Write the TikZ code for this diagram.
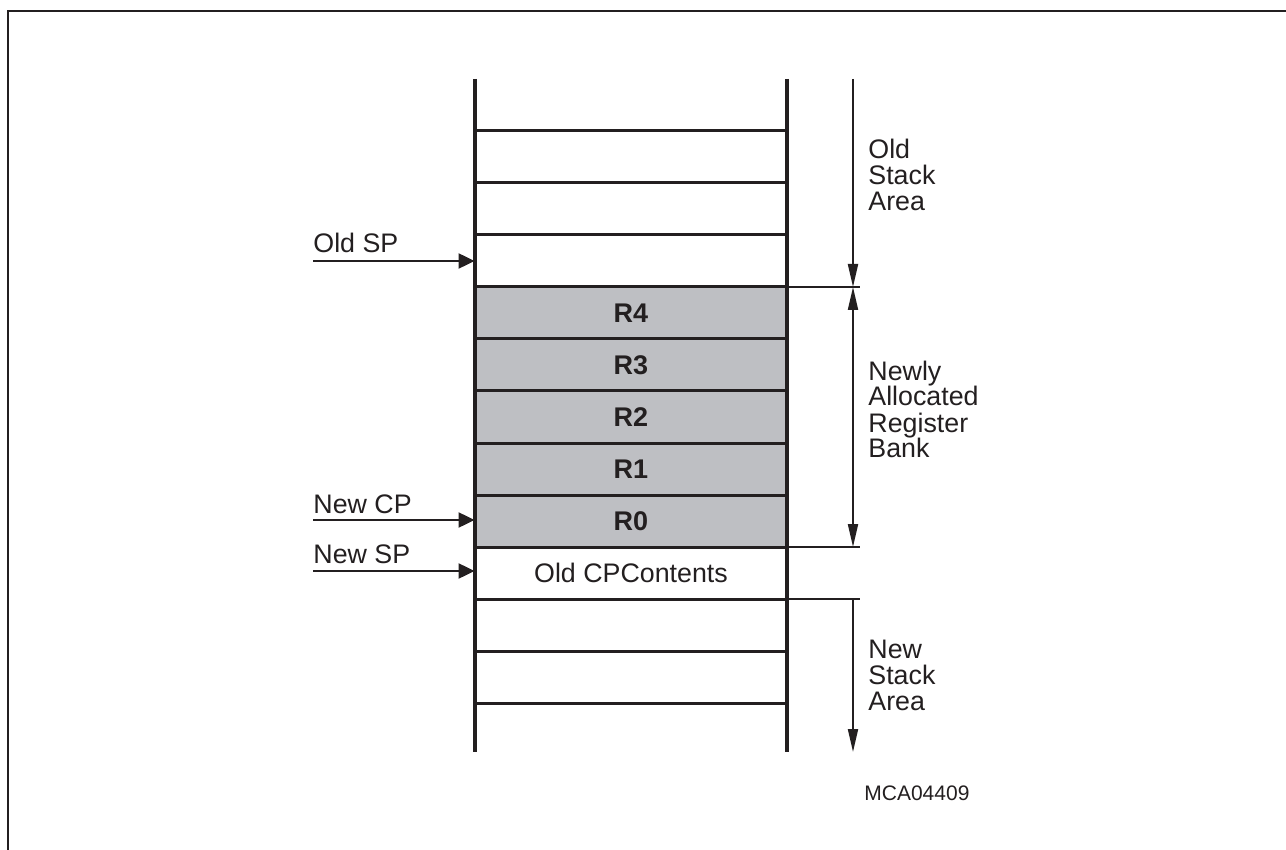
\documentclass[tikz,border=0pt]{standalone}
\usepackage{fontspec}
\setmainfont{Liberation Sans}
\usetikzlibrary{arrows.meta}
\definecolor{ink}{RGB}{35,31,32}
\definecolor{regfill}{RGB}{190,191,195}

\begin{document}
\begin{tikzpicture}[x=0.5pt,y=-0.5pt,ink,
  wall/.style={line width=2pt},
  slot/.style={line width=1.5pt},
  guide/.style={line width=1pt},
  ptr/.style={line width=1pt,-{Triangle[length=8pt,width=7.5pt]}},
  span/.style={line width=1pt,-{Triangle[length=11.5pt,width=5pt]}},
  spantwo/.style={line width=1pt,{Triangle[length=11.5pt,width=5pt]}-{Triangle[length=11.5pt,width=5pt]}},
  cell/.style={minimum width=156pt,minimum height=26pt,inner sep=0pt,
    text height=9.6pt,text depth=0pt,font=\fontsize{13.4}{14}\selectfont},
  reg/.style={cell,fill=regfill,text height=9.7pt,font=\fontsize{13.5}{15}\selectfont\bfseries},
  lbl/.style={anchor=base west,inner sep=0pt,align=left,font=\fontsize{13.4}{13}\selectfont}]
  \useasboundingbox (0,0) rectangle (1286,850);
  % frame
  \draw[line width=0.8pt] (8,850) -- (8,11) -- (1286,11);

  % register bank and saved CP
  \foreach \r [count=\i from 0] in {4,3,2,1,0}
    \node[reg] (R\r) at (631,313+52*\i) {R\r};
  \node[cell] (oldcp) at (631,573) {Old CPContents};

  % stack slots and walls
  \foreach \y in {131,183,235,287,339,391,443,495,547,599,651,703}
    \draw[slot] (475,\y) -- (787,\y);
  \draw[wall] (475,79) -- (475,752);
  \draw[wall] (787,79) -- (787,752);

  % pointers
  \node[lbl] (oldsp) at (313,253) {Old SP};
  \node[lbl] (newcp) at (313,513) {New CP};
  \node[lbl] (newsp) at (313,563) {New SP};
  \draw[ptr] ([yshift=-4pt]oldsp.base west) -- ([yshift=-4pt]oldsp.base west -| R4.west);
  \draw[ptr] ([yshift=-3.5pt]newcp.base west) -- ([yshift=-3.5pt]newcp.base west -| R0.west);
  \draw[ptr] ([yshift=-4pt]newsp.base west) -- ([yshift=-4pt]newsp.base west -| oldcp.west);

  % areas
  \coordinate (oldTop) at (853,79);
  \coordinate (bankTop) at (853,287);
  \coordinate (bankBot) at (853,547);
  \coordinate (newTop) at (853,599);
  \coordinate (newBot) at (853,752);
  \draw[guide] (R4.north east) -- ++(73,0);
  \draw[guide] (R0.south east) -- ++(73,0);
  \draw[guide] (oldcp.south east) -- ++(73,0);
  \draw[span] (oldTop) -- (bankTop);
  \draw[spantwo] (bankTop) -- (bankBot);
  \draw[span] (newTop) -- (newBot);

  % base = last line of each label
  \node[lbl] (oldarea) at (868,211) {Old\\Stack\\Area};
  \node[lbl] (bank) at (868,458) {Newly\\Allocated\\Register\\Bank};
  \node[lbl] (newarea) at (868,710) {New\\Stack\\Area};
  \node[lbl,font=\fontsize{10.5}{12}\selectfont] (figid) at (864,800) {MCA04409};
\end{tikzpicture}
\end{document}
